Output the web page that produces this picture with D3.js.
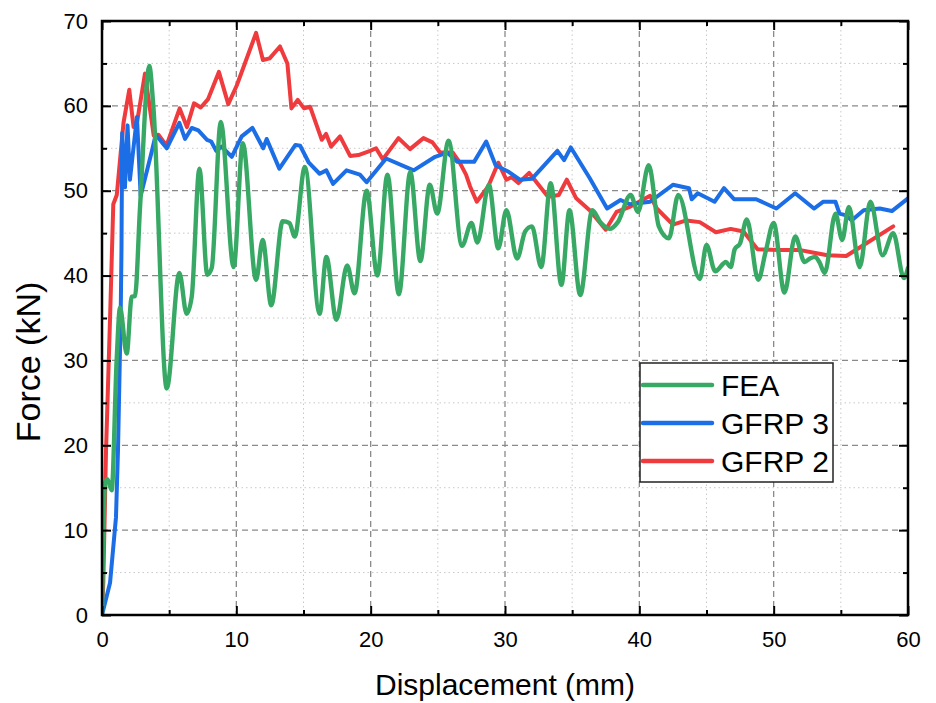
<!DOCTYPE html>
<html>
<head>
<meta charset="utf-8">
<script src="https://cdn.jsdelivr.net/npm/d3@7"></script>
<style>
  html, body { margin: 0; padding: 0; background: #fff; }
  svg { display: block; font-family: "Liberation Sans", Arial, sans-serif; }
</style>
</head>
<body>
<svg id="chart" width="936" height="703"></svg>
<script>
// ---- Data ----
const seriesNames = ["FEA", "GFRP 3", "GFRP 2"];
const xTicks = [0, 10, 20, 30, 40, 50, 60];
const yTicks = [0, 10, 20, 30, 40, 50, 60, 70];

// FEA: [displacement mm, force kN]
const feaData = [
  [0,0],[0.22,15.5],[0.4,16],[0.72,14.7],[1.09,30],[1.34,36.2],[1.84,30.8],[2.21,37.5],[2.46,37.6],
  [2.83,48],[3.52,64.7],[3.82,60],[4.82,26.7],[5.76,40.3],[6.3,35.5],[6.68,37.5],[7.25,52.6],
  [7.84,40.1],[8.17,40.9],[8.84,58.1],[9.8,41],[10.48,55.6],[11.47,39.5],[11.96,44.2],[12.6,36.5],
  [13.45,46.4],[13.95,46.2],[14.35,44.6],[15.1,52.8],[16.2,35.5],[16.7,42.2],[17.45,34.8],
  [18.25,41.2],[18.8,37.9],[19.7,50],[20.5,40],[21.25,51.9],[22.1,37.8],[22.95,52.2],[23.7,41.7],
  [24.4,50.7],[24.95,47.3],[25.8,55.9],[26.8,43.5],[27.5,46.2],[27.95,43.9],[28.8,50.7],[29.5,43.2],
  [30.1,47.7],[30.9,42],[31.5,45.2],[32,45.8],[32.7,41],[33.4,50.9],[34.2,38.9],[34.8,47.7],
  [35.6,37.7],[36.5,47.7],[37.1,46.3],[37.8,45.5],[38.4,46.3],[39.35,49.5],[39.9,47.5],[40.7,53],
  [41.45,45.8],[42.2,44.4],[42.9,49.5],[44.5,39.6],[45,43.6],[45.65,40.5],[46.45,41.6],[46.8,41],
  [47.1,43.1],[47.5,43.8],[48,46.6],[48.85,39.5],[49.4,42.8],[50,46.2],[50.8,38],[51.6,44.6],
  [52.3,41.6],[52.7,42],[53.1,42.2],[53.4,41.6],[53.8,40.3],[54.6,47.3],[55.1,44.2],[55.6,48.1],
  [56.4,41],[57.2,48.7],[58.1,42.4],[58.9,45],[59.7,39.7],[60,40.9]
];

// GFRP 3
const gfrp3Data = [
  [0,0],[0.6,3.8],[1.04,11.5],[1.19,19.4],[1.29,27.3],[1.39,35.1],[1.45,43],[1.5,56.8],[1.71,50.4],
  [1.9,57.7],[2.08,51.3],[2.6,58.7],[2.88,49.4],[3.7,54.6],[4.0,56.6],[4.82,55],[5.76,58],[6.18,56.1],
  [6.68,57.4],[7.17,57.1],[7.82,56],[8.13,55.8],[8.5,54.7],[8.9,55.2],[9.66,54],[10.4,56.4],
  [11.2,57.4],[12,55],[12.26,56.1],[13.2,52.6],[14.4,55.4],[14.75,55.3],[15.4,53.3],[16.2,52],
  [16.7,52.4],[17.2,50.8],[18.2,52.4],[19.2,51.9],[19.7,51],[21.15,53.8],[23.2,52.4],[24.8,54],
  [25.7,54.5],[26.45,53.4],[27.7,53.4],[28.6,55.8],[29.3,53],[30.3,52.2],[31.1,51.3],[32,51.4],
  [33.9,54.7],[34.4,53.6],[34.9,55.1],[36.3,51.5],[37.6,47.9],[38.6,48.9],[39.3,48.4],[40.8,48.7],
  [42.5,50.7],[43.7,50.3],[43.9,49],[44.35,49.7],[45.6,48.7],[46.3,50.3],[47.05,49],[48.7,49],
  [50.2,47.9],[51.6,49.7],[53,47.9],[53.7,48.7],[54.6,48.7],[54.9,47.3],[55.4,47.1],[55.8,46.5],
  [56.7,47.7],[57.9,47.9],[58.8,47.6],[60,49.1]
];

// GFRP 2
const gfrp2Data = [
  [0,0],[0.1,4],[0.3,19.4],[0.6,35],[0.84,48.4],[1.1,49.5],[1.6,58],[2.03,61.9],[2.35,57.5],[2.6,58],
  [3.2,63.8],[3.85,56.5],[4.2,56.6],[4.8,55.3],[5.78,59.7],[6.32,57.5],[6.85,60.3],[7.35,59.8],
  [7.9,60.8],[8.7,64],[9.4,60.2],[10.03,62.4],[11.47,68.6],[11.98,65.4],[12.48,65.6],[13.25,67],
  [13.8,65],[14.1,59.7],[14.57,60.7],[15.04,59.7],[15.49,59.9],[16.36,56],[16.68,56.7],[17.05,55.2],
  [17.72,56.4],[18.47,54.1],[19.09,54.2],[19.96,54.7],[20.4,55],[20.9,53.7],[22.07,56.2],[22.93,54.9],
  [23.93,56.2],[24.6,55.7],[25.17,54.5],[26.1,54.5],[26.6,53.4],[27.1,51.9],[27.4,50.5],[27.9,48.7],
  [28.75,50.5],[29.5,53.3],[30.1,51.3],[30.5,51.6],[31,50.9],[31.8,52.1],[32.2,51.3],[33.2,49.3],
  [34,49.5],[34.6,51.3],[35.3,49.1],[36.3,47.7],[37.5,45.4],[38.3,47.5],[39.3,48.1],[40.8,49.4],
  [41.3,47.9],[42.5,46],[43.5,46.5],[44.5,46.3],[45.7,45.1],[46.8,45.5],[47.75,45.2],[48.8,43.1],
  [50.5,43],[52,43],[53,42.7],[54,42.4],[55.4,42.3],[56.7,43.6],[58.9,45.8]
];

// ---- Layout ----
const svg = d3.select("#chart");
const L = 102, R = 908, T = 21, B = 615;
const x = d3.scaleLinear().domain([0, 60]).range([L, R]);
const y = d3.scaleLinear().domain([0, 70]).range([B, T]);

const colors = { "FEA": "#37a964", "GFRP 3": "#1c6ee6", "GFRP 2": "#ef3b3d" };

// Grid
const gGrid = svg.append("g");
const minorX = d3.range(5, 60, 10);
const minorY = d3.range(5, 70, 10);
gGrid.selectAll(".mx").data(minorX).join("line")
  .attr("x1", d => x(d)).attr("x2", d => x(d)).attr("y1", T).attr("y2", B)
  .attr("stroke", "#c8c8c8").attr("stroke-width", 1).attr("stroke-dasharray", "1.5,3");
gGrid.selectAll(".my").data(minorY).join("line")
  .attr("y1", d => y(d)).attr("y2", d => y(d)).attr("x1", L).attr("x2", R)
  .attr("stroke", "#c8c8c8").attr("stroke-width", 1).attr("stroke-dasharray", "1.5,3");
gGrid.selectAll(".Mx").data(xTicks.slice(1, -1)).join("line")
  .attr("x1", d => x(d)).attr("x2", d => x(d)).attr("y1", T).attr("y2", B)
  .attr("stroke", "#8a8a8a").attr("stroke-width", 1.3).attr("stroke-dasharray", "6,4");
gGrid.selectAll(".My").data(yTicks.slice(1, -1)).join("line")
  .attr("y1", d => y(d)).attr("y2", d => y(d)).attr("x1", L).attr("x2", R)
  .attr("stroke", "#8a8a8a").attr("stroke-width", 1.3).attr("stroke-dasharray", "6,4");

// Series lines
svg.append("clipPath").attr("id", "clip").append("rect")
  .attr("x", L).attr("y", T).attr("width", R - L).attr("height", B - T);
const lineLin = d3.line().x(d => x(d[0])).y(d => y(d[1]));
const lineSmooth = d3.line().x(d => x(d[0])).y(d => y(d[1])).curve(d3.curveMonotoneX);
const gLines = svg.append("g").attr("clip-path", "url(#clip)");
gLines.append("path").datum(gfrp2Data).attr("d", lineLin)
  .attr("fill", "none").attr("stroke", colors["GFRP 2"]).attr("stroke-width", 4)
  .attr("stroke-linejoin", "round").attr("stroke-linecap", "round");
gLines.append("path").datum(gfrp3Data).attr("d", lineLin)
  .attr("fill", "none").attr("stroke", colors["GFRP 3"]).attr("stroke-width", 4)
  .attr("stroke-linejoin", "round").attr("stroke-linecap", "round");
gLines.append("path").datum(feaData).attr("d", lineSmooth)
  .attr("fill", "none").attr("stroke", colors["FEA"]).attr("stroke-width", 4.4)
  .attr("stroke-linejoin", "round").attr("stroke-linecap", "round");

// Axes
function styleAxis(g) {
  g.select(".domain").remove();
  g.selectAll(".tick line").attr("stroke", "#000").attr("stroke-width", 2);
  g.selectAll("text").attr("fill", "#000").attr("font-size", 22)
    .attr("font-family", "'Liberation Sans', Arial, sans-serif");
}
const minorXT = d3.range(5, 60, 10);
const minorYT = d3.range(5, 70, 10);

svg.append("g").attr("transform", `translate(0,${B})`)
  .call(d3.axisBottom(x).tickValues(xTicks).tickSizeInner(-9).tickSizeOuter(0).tickPadding(16))
  .call(styleAxis);
svg.append("g").attr("transform", `translate(0,${B})`)
  .call(d3.axisBottom(x).tickValues(minorXT).tickSizeInner(-5).tickSizeOuter(0).tickFormat(""))
  .call(styleAxis);
svg.append("g").attr("transform", `translate(0,${T})`)
  .call(d3.axisTop(x).tickValues(xTicks).tickSizeInner(-9).tickSizeOuter(0).tickFormat(""))
  .call(styleAxis);
svg.append("g").attr("transform", `translate(0,${T})`)
  .call(d3.axisTop(x).tickValues(minorXT).tickSizeInner(-5).tickSizeOuter(0).tickFormat(""))
  .call(styleAxis);
svg.append("g").attr("transform", `translate(${L},0)`)
  .call(d3.axisLeft(y).tickValues(yTicks).tickSizeInner(-9).tickSizeOuter(0).tickPadding(14))
  .call(styleAxis);
svg.append("g").attr("transform", `translate(${L},0)`)
  .call(d3.axisLeft(y).tickValues(minorYT).tickSizeInner(-5).tickSizeOuter(0).tickFormat(""))
  .call(styleAxis);
svg.append("g").attr("transform", `translate(${R},0)`)
  .call(d3.axisRight(y).tickValues(yTicks).tickSizeInner(-9).tickSizeOuter(0).tickFormat(""))
  .call(styleAxis);
svg.append("g").attr("transform", `translate(${R},0)`)
  .call(d3.axisRight(y).tickValues(minorYT).tickSizeInner(-5).tickSizeOuter(0).tickFormat(""))
  .call(styleAxis);

// Frame
svg.append("rect").attr("x", L).attr("y", T).attr("width", R - L).attr("height", B - T)
  .attr("fill", "none").attr("stroke", "#000").attr("stroke-width", 2.5);

// Axis titles
svg.append("text").attr("x", (L + R) / 2).attr("y", 695).attr("text-anchor", "middle")
  .attr("font-size", 30).attr("fill", "#000").text("Displacement (mm)");
svg.append("text").attr("transform", "translate(40,362) rotate(-90)")
  .attr("text-anchor", "middle").attr("font-size", 34).attr("fill", "#000").text("Force (kN)");

// Legend
const leg = svg.append("g");
leg.append("rect").attr("x", 640).attr("y", 363).attr("width", 193).attr("height", 119)
  .attr("fill", "#fff").attr("stroke", "#222").attr("stroke-width", 1.5);
const legY = [385, 423, 461];
seriesNames.forEach((n, i) => {
  leg.append("line").attr("x1", 643).attr("x2", 712).attr("y1", legY[i]).attr("y2", legY[i])
    .attr("stroke", colors[n]).attr("stroke-width", 4.5).attr("stroke-linecap", "round");
  leg.append("text").attr("x", 721).attr("y", legY[i] + 11).attr("font-size", 30)
    .attr("fill", "#000").text(n);
});
</script>
</body>
</html>
